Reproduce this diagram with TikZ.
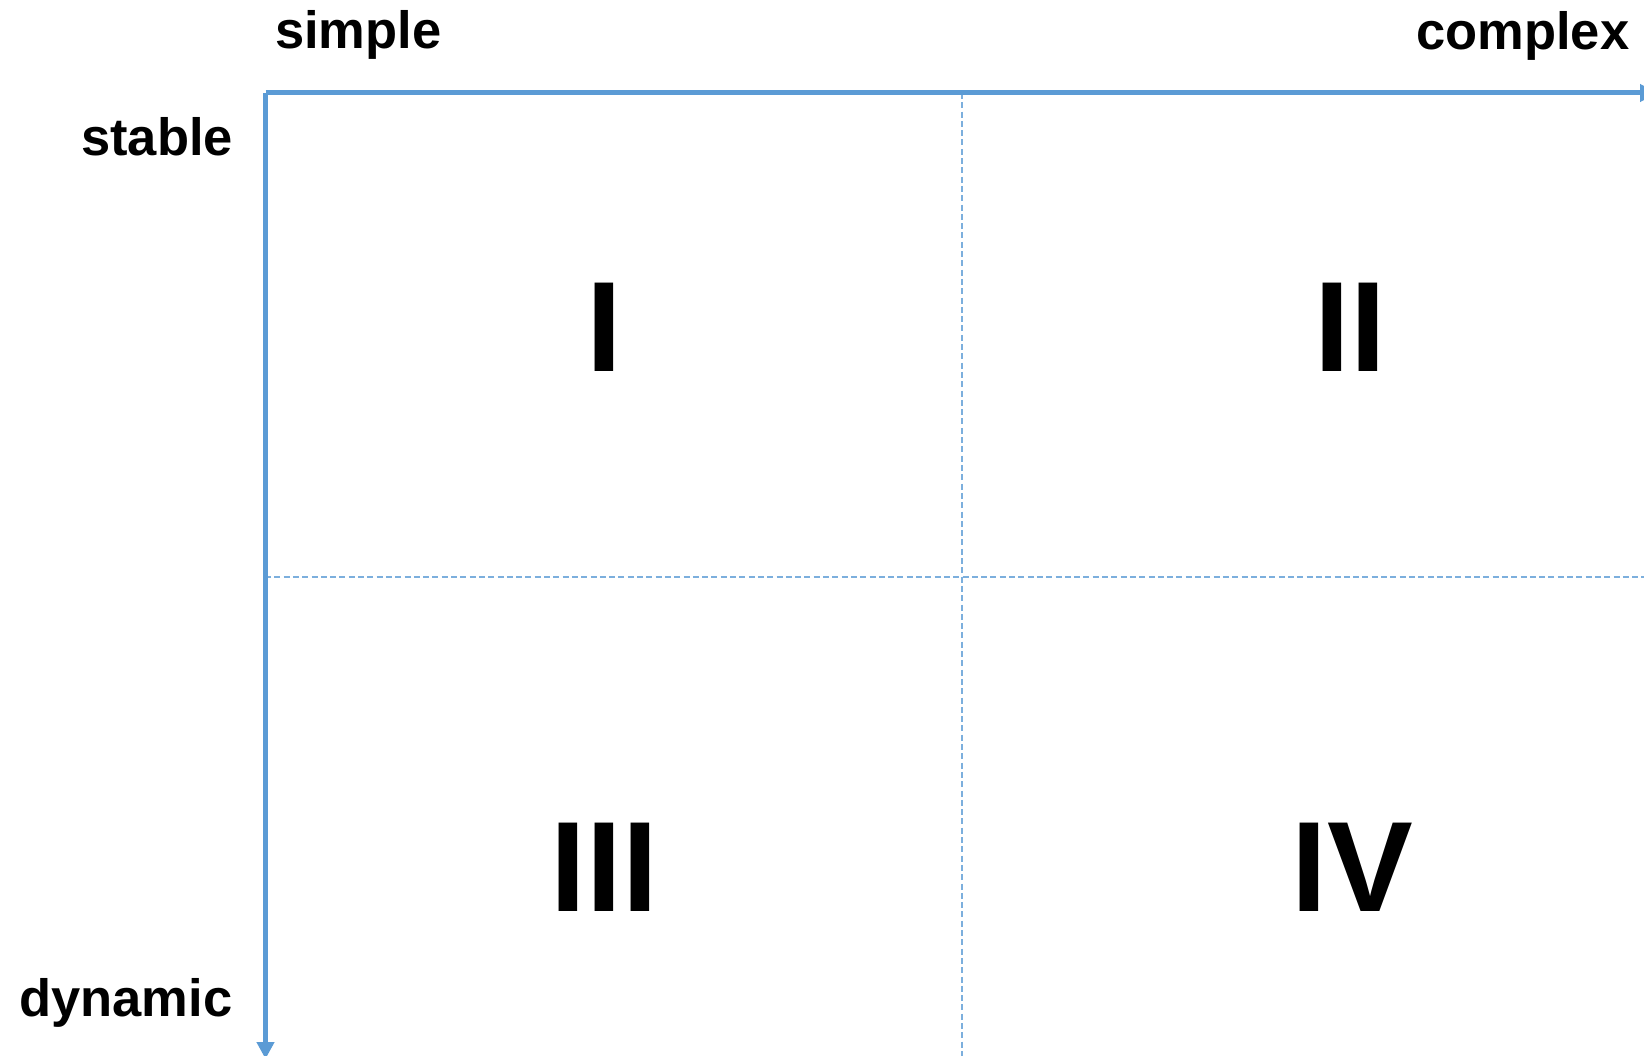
\documentclass[tikz,border=0pt]{standalone}
\usepackage{fontspec}
\setmainfont{Liberation Sans}
\usetikzlibrary{arrows.meta}
\definecolor{axisblue}{RGB}{91,155,213}
\tikzset{
  axisline/.style={draw=axisblue, line width=5pt, line join=miter, -{Triangle[width=17pt,length=17pt]}},
  gridline/.style={draw=axisblue!80, line width=1.5pt, dash pattern=on 6pt off 3.3pt},
  axislabel/.style={inner sep=0pt, anchor=base west, font=\fontsize{52.5pt}{60pt}\selectfont\bfseries},
  quadlabel/.style={inner sep=0pt, anchor=base, font=\fontsize{128.5pt}{140pt}\selectfont\bfseries}
}
\begin{document}
\begin{tikzpicture}[x=1pt,y=-1pt]
\useasboundingbox (0,0) rectangle (1644,1056);
% grid coordinates
\coordinate (vtop) at (962,93);
\coordinate (vbot) at (962,1060);
\coordinate (hleft) at (265,577);
\coordinate (hright) at (1650,577);
\draw[gridline] (vtop) -- (vbot);
\draw[gridline] (hleft) -- (hright);
% axes
\coordinate (origin) at (265.5,93);
\coordinate (xend) at (1657,93);
\coordinate (yend) at (265.5,1059);
\draw[axisline] (origin) -- (xend);
\draw[axisline] (origin) -- (yend);
% axis labels
\node[axislabel] (simple) at (275,49) {simple};
\node[axislabel] (complex) at (1416,50) {complex};
\node[axislabel] (stable) at (81,156) {stable};
\node[axislabel] (dynamic) at (19,1016) {dynamic};
% quadrant labels
\node[quadlabel] (q1) at (604,372) {I};
\node[quadlabel] (q2) at (1350,372) {II};
\node[quadlabel] (q3) at (604.5,911) {III};
\node[quadlabel] (q4) at (1352,911) {IV};
\end{tikzpicture}
\end{document}
